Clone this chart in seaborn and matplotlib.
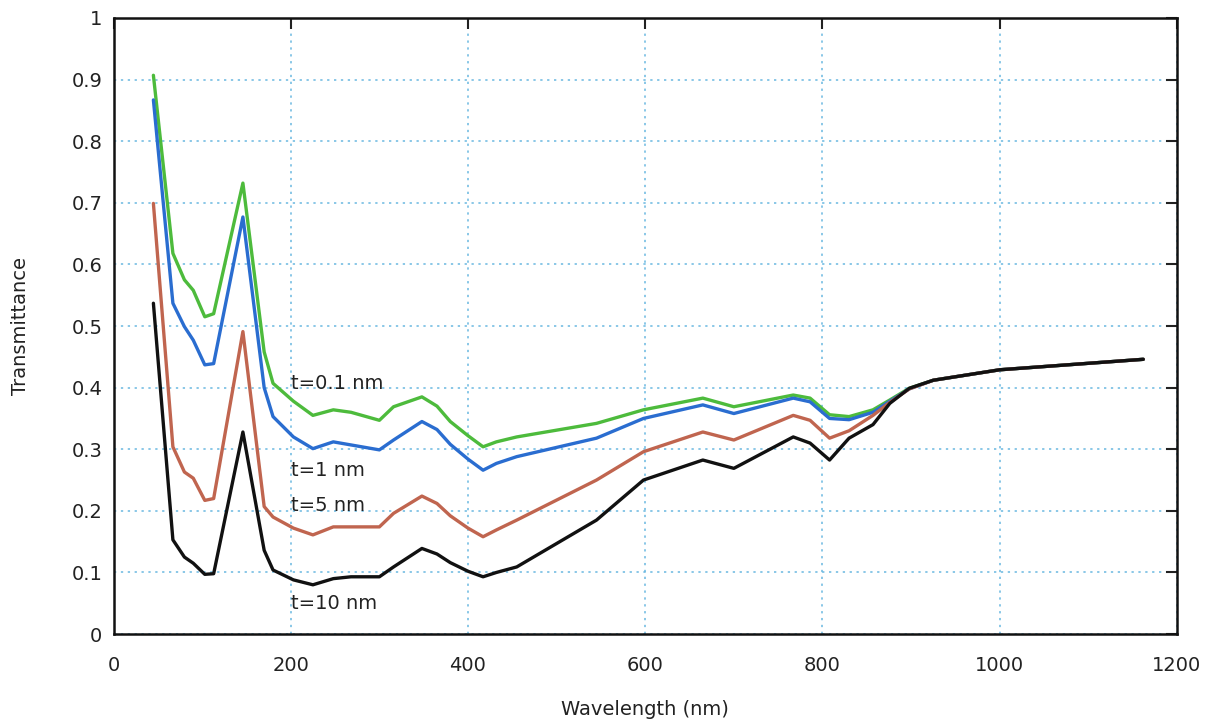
import numpy as np
import pandas as pd
import matplotlib
matplotlib.use("Agg")
import matplotlib.pyplot as plt
import seaborn as sns

wavelength = [45, 67, 80, 90, 103, 113, 146, 170, 180, 203, 225, 248, 268, 300, 316,
              348, 365, 380, 400, 417, 432, 455, 545, 598, 665, 700, 767, 786, 808, 830, 857,
              876, 898, 925, 1000, 1162]

t01 = [0.907, 0.618, 0.575, 0.558, 0.515, 0.520, 0.732, 0.458, 0.407, 0.378, 0.355,
       0.364, 0.360, 0.347, 0.369, 0.385, 0.370, 0.345, 0.322, 0.304, 0.312, 0.320, 0.342, 0.364,
       0.383, 0.369, 0.388, 0.383, 0.356, 0.353, 0.364, 0.380, 0.399, 0.412, 0.429, 0.446]
t1 = [0.867, 0.537, 0.499, 0.477, 0.437, 0.439, 0.677, 0.400, 0.353, 0.320, 0.301,
      0.312, 0.307, 0.299, 0.315, 0.345, 0.332, 0.308, 0.284, 0.266, 0.277, 0.288, 0.318, 0.350,
      0.372, 0.358, 0.383, 0.377, 0.350, 0.348, 0.360, 0.378, 0.398, 0.412, 0.429, 0.446]
t5 = [0.699, 0.304, 0.263, 0.253, 0.217, 0.220, 0.491, 0.207, 0.190, 0.172, 0.161,
      0.174, 0.174, 0.174, 0.196, 0.224, 0.212, 0.192, 0.172, 0.158, 0.169, 0.185, 0.250, 0.296,
      0.328, 0.315, 0.355, 0.347, 0.318, 0.330, 0.355, 0.376, 0.398, 0.412, 0.429, 0.446]
t10 = [0.537, 0.153, 0.125, 0.115, 0.097, 0.098, 0.328, 0.136, 0.104, 0.088, 0.080,
       0.090, 0.093, 0.093, 0.109, 0.139, 0.130, 0.116, 0.102, 0.093, 0.100, 0.109, 0.185, 0.250,
       0.2825, 0.269, 0.320, 0.310, 0.2825, 0.318, 0.340, 0.3745, 0.399, 0.412, 0.429, 0.446]

series_names = ["t=0.1 nm", "t=1 nm", "t=5 nm", "t=10 nm"]
series_values = [t01, t1, t5, t10]
series_colors = ["#4dbb3c", "#2a6dd0", "#c0654f", "#111111"]
label_pos = [(200, 0.407), (200, 0.266), (200, 0.208), (200, 0.050)]

x_ticks = [0, 200, 400, 600, 800, 1000, 1200]
y_ticks = [0, 0.1, 0.2, 0.3, 0.4, 0.5, 0.6, 0.7, 0.8, 0.9, 1]
y_tick_labels = ["0", "0.1", "0.2", "0.3", "0.4", "0.5", "0.6", "0.7", "0.8", "0.9", "1"]

rows = []
for name, vals in zip(series_names, series_values):
    for w, v in zip(wavelength, vals):
        rows.append({"Wavelength": w, "Transmittance": v, "series": name})
df = pd.DataFrame(rows)

sns.set_style("white")
plt.rcParams['font.family'] = ['DejaVu Sans']

fig = plt.figure(figsize=(12.18, 7.28), dpi=100)
ax = fig.add_axes([0.0932, 0.129, 0.8731, 0.8463])

sns.lineplot(data=df, x="Wavelength", y="Transmittance", hue="series",
             hue_order=series_names, palette=series_colors, linewidth=2.4,
             legend=False, ax=ax, sort=False)

for name, (lx, ly) in zip(series_names, label_pos):
    ax.text(lx, ly, name, fontsize=14, color="#222222", ha="left", va="center")

ax.set_xlim(0, 1200)
ax.set_ylim(0, 1)
ax.set_xticks(x_ticks)
ax.set_yticks(y_ticks)
ax.set_yticklabels(y_tick_labels)
ax.grid(True, linestyle=(0, (1.5, 3)), color="#6ab8e0", linewidth=1.1)
ax.tick_params(direction="in", length=8, width=1.5, top=True, right=True,
               labelsize=14, colors="#222222", pad=8)
ax.tick_params(axis="x", pad=16)
for s in ax.spines.values():
    s.set_color("#111111")
    s.set_linewidth(1.8)
    s.set_visible(True)

ax.set_xlabel("Wavelength (nm)", fontsize=14, color="#222222", labelpad=18)
ax.set_ylabel("Transmittance", fontsize=14, color="#222222", labelpad=30)

fig.savefig("out.png", dpi=100, facecolor="white")
